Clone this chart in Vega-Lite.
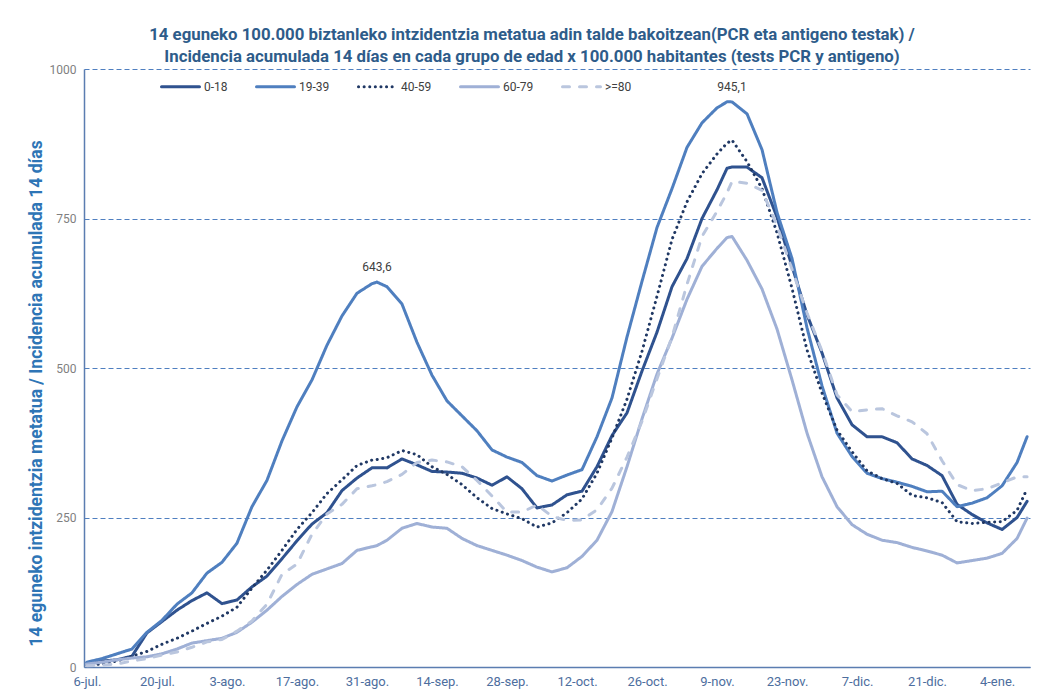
{
"$schema": "https://vega.github.io/schema/vega-lite/v6.json",
"width": 946, "height": 598,
"autosize": {"type": "none"},
"padding": {"left": 84, "top": 69, "right": 22, "bottom": 28},
"background": "white",
"config": {"view": {"stroke": null}, "font": "Roboto"},
"title": {"text": ["14 eguneko 100.000 biztanleko intzidentzia metatua adin talde bakoitzean(PCR eta antigeno testak) /", "Incidencia acumulada 14 días en cada grupo de edad x 100.000 habitantes (tests PCR y antigeno)"], "fontSize": 16.8, "fontWeight": "bold", "color": "#2e5c8a", "font": "Roboto", "anchor": "middle", "dx": -25, "offset": -3, "lineHeight": 22},
"layer": [
{
"data": {"values": [
{"d":"2020-07-06","g":"0-18","v":7},{"d":"2020-07-09","g":"0-18","v":10},{"d":"2020-07-12","g":"0-18","v":12},{"d":"2020-07-15","g":"0-18","v":18},{"d":"2020-07-18","g":"0-18","v":57},{"d":"2020-07-21","g":"0-18","v":76},{"d":"2020-07-24","g":"0-18","v":95},{"d":"2020-07-27","g":"0-18","v":111},{"d":"2020-07-30","g":"0-18","v":124},{"d":"2020-08-02","g":"0-18","v":106},
{"d":"2020-08-05","g":"0-18","v":112},{"d":"2020-08-08","g":"0-18","v":134},{"d":"2020-08-11","g":"0-18","v":152},{"d":"2020-08-14","g":"0-18","v":181},{"d":"2020-08-17","g":"0-18","v":211},{"d":"2020-08-20","g":"0-18","v":239},{"d":"2020-08-23","g":"0-18","v":258},{"d":"2020-08-26","g":"0-18","v":295},{"d":"2020-08-29","g":"0-18","v":316},{"d":"2020-09-01","g":"0-18","v":333},
{"d":"2020-09-02","g":"0-18","v":333},{"d":"2020-09-04","g":"0-18","v":333},{"d":"2020-09-07","g":"0-18","v":348},{"d":"2020-09-10","g":"0-18","v":338},{"d":"2020-09-13","g":"0-18","v":327},{"d":"2020-09-16","g":"0-18","v":326},{"d":"2020-09-19","g":"0-18","v":324},{"d":"2020-09-22","g":"0-18","v":316},{"d":"2020-09-25","g":"0-18","v":304},{"d":"2020-09-28","g":"0-18","v":318},
{"d":"2020-10-01","g":"0-18","v":298},{"d":"2020-10-04","g":"0-18","v":266},{"d":"2020-10-07","g":"0-18","v":271},{"d":"2020-10-10","g":"0-18","v":288},{"d":"2020-10-13","g":"0-18","v":294},{"d":"2020-10-16","g":"0-18","v":335},{"d":"2020-10-19","g":"0-18","v":387},{"d":"2020-10-22","g":"0-18","v":425},{"d":"2020-10-25","g":"0-18","v":495},{"d":"2020-10-28","g":"0-18","v":560},
{"d":"2020-10-31","g":"0-18","v":636},{"d":"2020-11-03","g":"0-18","v":683},{"d":"2020-11-06","g":"0-18","v":750},{"d":"2020-11-09","g":"0-18","v":798},{"d":"2020-11-11","g":"0-18","v":834},{"d":"2020-11-12","g":"0-18","v":836},{"d":"2020-11-15","g":"0-18","v":836},{"d":"2020-11-18","g":"0-18","v":818},{"d":"2020-11-21","g":"0-18","v":752},{"d":"2020-11-24","g":"0-18","v":670},
{"d":"2020-11-27","g":"0-18","v":589},{"d":"2020-11-30","g":"0-18","v":525},{"d":"2020-12-03","g":"0-18","v":450},{"d":"2020-12-06","g":"0-18","v":405},{"d":"2020-12-09","g":"0-18","v":385},{"d":"2020-12-12","g":"0-18","v":385},{"d":"2020-12-15","g":"0-18","v":375},{"d":"2020-12-18","g":"0-18","v":348},{"d":"2020-12-21","g":"0-18","v":337},{"d":"2020-12-24","g":"0-18","v":320},
{"d":"2020-12-27","g":"0-18","v":272},{"d":"2020-12-30","g":"0-18","v":255},{"d":"2021-01-02","g":"0-18","v":241},{"d":"2021-01-05","g":"0-18","v":230},{"d":"2021-01-08","g":"0-18","v":250},{"d":"2021-01-10","g":"0-18","v":277},

{"d":"2020-07-06","g":"19-39","v":8},{"d":"2020-07-09","g":"19-39","v":14},{"d":"2020-07-12","g":"19-39","v":22},{"d":"2020-07-15","g":"19-39","v":30},{"d":"2020-07-18","g":"19-39","v":58},{"d":"2020-07-21","g":"19-39","v":78},{"d":"2020-07-24","g":"19-39","v":105},{"d":"2020-07-27","g":"19-39","v":124},{"d":"2020-07-30","g":"19-39","v":157},{"d":"2020-08-02","g":"19-39","v":175},
{"d":"2020-08-05","g":"19-39","v":207},{"d":"2020-08-08","g":"19-39","v":268},{"d":"2020-08-11","g":"19-39","v":312},{"d":"2020-08-14","g":"19-39","v":378},{"d":"2020-08-17","g":"19-39","v":435},{"d":"2020-08-20","g":"19-39","v":480},{"d":"2020-08-23","g":"19-39","v":538},{"d":"2020-08-26","g":"19-39","v":587},{"d":"2020-08-29","g":"19-39","v":625},{"d":"2020-09-01","g":"19-39","v":641},
{"d":"2020-09-02","g":"19-39","v":643.6},{"d":"2020-09-04","g":"19-39","v":636},{"d":"2020-09-07","g":"19-39","v":607},{"d":"2020-09-10","g":"19-39","v":543},{"d":"2020-09-13","g":"19-39","v":488},{"d":"2020-09-16","g":"19-39","v":445},{"d":"2020-09-19","g":"19-39","v":420},{"d":"2020-09-22","g":"19-39","v":395},{"d":"2020-09-25","g":"19-39","v":363},{"d":"2020-09-28","g":"19-39","v":351},
{"d":"2020-10-01","g":"19-39","v":342},{"d":"2020-10-04","g":"19-39","v":320},{"d":"2020-10-07","g":"19-39","v":311},{"d":"2020-10-10","g":"19-39","v":321},{"d":"2020-10-13","g":"19-39","v":330},{"d":"2020-10-16","g":"19-39","v":385},{"d":"2020-10-19","g":"19-39","v":450},{"d":"2020-10-22","g":"19-39","v":552},{"d":"2020-10-25","g":"19-39","v":645},{"d":"2020-10-28","g":"19-39","v":735},
{"d":"2020-10-31","g":"19-39","v":800},{"d":"2020-11-03","g":"19-39","v":869},{"d":"2020-11-06","g":"19-39","v":910},{"d":"2020-11-09","g":"19-39","v":935},{"d":"2020-11-11","g":"19-39","v":945.1},{"d":"2020-11-12","g":"19-39","v":945},{"d":"2020-11-15","g":"19-39","v":925},{"d":"2020-11-18","g":"19-39","v":865},{"d":"2020-11-21","g":"19-39","v":760},{"d":"2020-11-24","g":"19-39","v":683},
{"d":"2020-11-27","g":"19-39","v":567},{"d":"2020-11-30","g":"19-39","v":470},{"d":"2020-12-03","g":"19-39","v":391},{"d":"2020-12-06","g":"19-39","v":352},{"d":"2020-12-09","g":"19-39","v":324},{"d":"2020-12-12","g":"19-39","v":315},{"d":"2020-12-15","g":"19-39","v":309},{"d":"2020-12-18","g":"19-39","v":302},{"d":"2020-12-21","g":"19-39","v":293},{"d":"2020-12-24","g":"19-39","v":294},
{"d":"2020-12-27","g":"19-39","v":268},{"d":"2020-12-30","g":"19-39","v":274},{"d":"2021-01-02","g":"19-39","v":283},{"d":"2021-01-05","g":"19-39","v":303},{"d":"2021-01-08","g":"19-39","v":342},{"d":"2021-01-10","g":"19-39","v":385},

{"d":"2020-07-06","g":"40-59","v":3},{"d":"2020-07-09","g":"40-59","v":5},{"d":"2020-07-12","g":"40-59","v":10},{"d":"2020-07-15","g":"40-59","v":18},{"d":"2020-07-18","g":"40-59","v":26},{"d":"2020-07-21","g":"40-59","v":38},{"d":"2020-07-24","g":"40-59","v":48},{"d":"2020-07-27","g":"40-59","v":60},{"d":"2020-07-30","g":"40-59","v":73},{"d":"2020-08-02","g":"40-59","v":85},
{"d":"2020-08-05","g":"40-59","v":100},{"d":"2020-08-08","g":"40-59","v":132},{"d":"2020-08-11","g":"40-59","v":162},{"d":"2020-08-14","g":"40-59","v":195},{"d":"2020-08-17","g":"40-59","v":230},{"d":"2020-08-20","g":"40-59","v":258},{"d":"2020-08-23","g":"40-59","v":290},{"d":"2020-08-26","g":"40-59","v":313},{"d":"2020-08-29","g":"40-59","v":337},{"d":"2020-09-01","g":"40-59","v":346},
{"d":"2020-09-02","g":"40-59","v":347},{"d":"2020-09-04","g":"40-59","v":350},{"d":"2020-09-07","g":"40-59","v":362},{"d":"2020-09-10","g":"40-59","v":355},{"d":"2020-09-13","g":"40-59","v":335},{"d":"2020-09-16","g":"40-59","v":322},{"d":"2020-09-19","g":"40-59","v":305},{"d":"2020-09-22","g":"40-59","v":283},{"d":"2020-09-25","g":"40-59","v":265},{"d":"2020-09-28","g":"40-59","v":256},
{"d":"2020-10-01","g":"40-59","v":248},{"d":"2020-10-04","g":"40-59","v":234},{"d":"2020-10-07","g":"40-59","v":241},{"d":"2020-10-10","g":"40-59","v":258},{"d":"2020-10-13","g":"40-59","v":281},{"d":"2020-10-16","g":"40-59","v":324},{"d":"2020-10-19","g":"40-59","v":383},{"d":"2020-10-22","g":"40-59","v":448},{"d":"2020-10-25","g":"40-59","v":528},{"d":"2020-10-28","g":"40-59","v":620},
{"d":"2020-10-31","g":"40-59","v":715},{"d":"2020-11-03","g":"40-59","v":778},{"d":"2020-11-06","g":"40-59","v":825},{"d":"2020-11-09","g":"40-59","v":858},{"d":"2020-11-11","g":"40-59","v":876},{"d":"2020-11-12","g":"40-59","v":881},{"d":"2020-11-15","g":"40-59","v":845},{"d":"2020-11-18","g":"40-59","v":800},{"d":"2020-11-21","g":"40-59","v":726},{"d":"2020-11-24","g":"40-59","v":633},
{"d":"2020-11-27","g":"40-59","v":530},{"d":"2020-11-30","g":"40-59","v":458},{"d":"2020-12-03","g":"40-59","v":396},{"d":"2020-12-06","g":"40-59","v":360},{"d":"2020-12-09","g":"40-59","v":328},{"d":"2020-12-12","g":"40-59","v":315},{"d":"2020-12-15","g":"40-59","v":307},{"d":"2020-12-18","g":"40-59","v":287},{"d":"2020-12-21","g":"40-59","v":283},{"d":"2020-12-24","g":"40-59","v":275},
{"d":"2020-12-27","g":"40-59","v":243},{"d":"2020-12-30","g":"40-59","v":240},{"d":"2021-01-02","g":"40-59","v":242},{"d":"2021-01-05","g":"40-59","v":243},{"d":"2021-01-08","g":"40-59","v":262},{"d":"2021-01-10","g":"40-59","v":298},

{"d":"2020-07-06","g":"60-79","v":5},{"d":"2020-07-09","g":"60-79","v":8},{"d":"2020-07-12","g":"60-79","v":12},{"d":"2020-07-15","g":"60-79","v":15},{"d":"2020-07-18","g":"60-79","v":17},{"d":"2020-07-21","g":"60-79","v":22},{"d":"2020-07-24","g":"60-79","v":30},{"d":"2020-07-27","g":"60-79","v":40},{"d":"2020-07-30","g":"60-79","v":44},{"d":"2020-08-02","g":"60-79","v":48},
{"d":"2020-08-05","g":"60-79","v":58},{"d":"2020-08-08","g":"60-79","v":75},{"d":"2020-08-11","g":"60-79","v":95},{"d":"2020-08-14","g":"60-79","v":118},{"d":"2020-08-17","g":"60-79","v":138},{"d":"2020-08-20","g":"60-79","v":155},{"d":"2020-08-23","g":"60-79","v":164},{"d":"2020-08-26","g":"60-79","v":173},{"d":"2020-08-29","g":"60-79","v":195},{"d":"2020-09-01","g":"60-79","v":201},
{"d":"2020-09-02","g":"60-79","v":203},{"d":"2020-09-04","g":"60-79","v":212},{"d":"2020-09-07","g":"60-79","v":232},{"d":"2020-09-10","g":"60-79","v":240},{"d":"2020-09-13","g":"60-79","v":234},{"d":"2020-09-16","g":"60-79","v":232},{"d":"2020-09-19","g":"60-79","v":215},{"d":"2020-09-22","g":"60-79","v":203},{"d":"2020-09-25","g":"60-79","v":195},{"d":"2020-09-28","g":"60-79","v":187},
{"d":"2020-10-01","g":"60-79","v":178},{"d":"2020-10-04","g":"60-79","v":167},{"d":"2020-10-07","g":"60-79","v":159},{"d":"2020-10-10","g":"60-79","v":166},{"d":"2020-10-13","g":"60-79","v":185},{"d":"2020-10-16","g":"60-79","v":212},{"d":"2020-10-19","g":"60-79","v":260},{"d":"2020-10-22","g":"60-79","v":335},{"d":"2020-10-25","g":"60-79","v":415},{"d":"2020-10-28","g":"60-79","v":490},
{"d":"2020-10-31","g":"60-79","v":550},{"d":"2020-11-03","g":"60-79","v":615},{"d":"2020-11-06","g":"60-79","v":670},{"d":"2020-11-09","g":"60-79","v":700},{"d":"2020-11-11","g":"60-79","v":718},{"d":"2020-11-12","g":"60-79","v":720},{"d":"2020-11-15","g":"60-79","v":680},{"d":"2020-11-18","g":"60-79","v":632},{"d":"2020-11-21","g":"60-79","v":565},{"d":"2020-11-24","g":"60-79","v":480},
{"d":"2020-11-27","g":"60-79","v":391},{"d":"2020-11-30","g":"60-79","v":318},{"d":"2020-12-03","g":"60-79","v":268},{"d":"2020-12-06","g":"60-79","v":238},{"d":"2020-12-09","g":"60-79","v":222},{"d":"2020-12-12","g":"60-79","v":212},{"d":"2020-12-15","g":"60-79","v":208},{"d":"2020-12-18","g":"60-79","v":200},{"d":"2020-12-21","g":"60-79","v":194},{"d":"2020-12-24","g":"60-79","v":187},
{"d":"2020-12-27","g":"60-79","v":174},{"d":"2020-12-30","g":"60-79","v":178},{"d":"2021-01-02","g":"60-79","v":182},{"d":"2021-01-05","g":"60-79","v":190},{"d":"2021-01-08","g":"60-79","v":215},{"d":"2021-01-10","g":"60-79","v":249},

{"d":"2020-07-06","g":">=80","v":2},{"d":"2020-07-09","g":">=80","v":3},{"d":"2020-07-12","g":">=80","v":5},{"d":"2020-07-15","g":">=80","v":10},{"d":"2020-07-18","g":">=80","v":14},{"d":"2020-07-21","g":">=80","v":20},{"d":"2020-07-24","g":">=80","v":25},{"d":"2020-07-27","g":">=80","v":33},{"d":"2020-07-30","g":">=80","v":42},{"d":"2020-08-02","g":">=80","v":46},
{"d":"2020-08-05","g":">=80","v":60},{"d":"2020-08-08","g":">=80","v":77},{"d":"2020-08-11","g":">=80","v":105},{"d":"2020-08-14","g":">=80","v":155},{"d":"2020-08-17","g":">=80","v":172},{"d":"2020-08-20","g":">=80","v":222},{"d":"2020-08-23","g":">=80","v":256},{"d":"2020-08-26","g":">=80","v":272},{"d":"2020-08-29","g":">=80","v":298},{"d":"2020-09-01","g":">=80","v":303},
{"d":"2020-09-02","g":">=80","v":305},{"d":"2020-09-04","g":">=80","v":310},{"d":"2020-09-07","g":">=80","v":322},{"d":"2020-09-10","g":">=80","v":342},{"d":"2020-09-13","g":">=80","v":346},{"d":"2020-09-16","g":">=80","v":343},{"d":"2020-09-19","g":">=80","v":335},{"d":"2020-09-22","g":">=80","v":312},{"d":"2020-09-25","g":">=80","v":286},{"d":"2020-09-28","g":">=80","v":259},
{"d":"2020-10-01","g":">=80","v":259},{"d":"2020-10-04","g":">=80","v":271},{"d":"2020-10-07","g":">=80","v":252},{"d":"2020-10-10","g":">=80","v":245},{"d":"2020-10-13","g":">=80","v":246},{"d":"2020-10-16","g":">=80","v":263},{"d":"2020-10-19","g":">=80","v":299},{"d":"2020-10-22","g":">=80","v":351},{"d":"2020-10-25","g":">=80","v":411},{"d":"2020-10-28","g":">=80","v":482},
{"d":"2020-10-31","g":">=80","v":552},{"d":"2020-11-03","g":">=80","v":640},{"d":"2020-11-06","g":">=80","v":720},{"d":"2020-11-09","g":">=80","v":762},{"d":"2020-11-11","g":">=80","v":793},{"d":"2020-11-12","g":">=80","v":812},{"d":"2020-11-15","g":">=80","v":809},{"d":"2020-11-18","g":">=80","v":797},{"d":"2020-11-21","g":">=80","v":738},{"d":"2020-11-24","g":">=80","v":665},
{"d":"2020-11-27","g":">=80","v":592},{"d":"2020-11-30","g":">=80","v":528},{"d":"2020-12-03","g":">=80","v":455},{"d":"2020-12-06","g":">=80","v":427},{"d":"2020-12-09","g":">=80","v":430},{"d":"2020-12-12","g":">=80","v":432},{"d":"2020-12-15","g":">=80","v":420},{"d":"2020-12-18","g":">=80","v":410},{"d":"2020-12-21","g":">=80","v":390},{"d":"2020-12-24","g":">=80","v":345},
{"d":"2020-12-27","g":">=80","v":305},{"d":"2020-12-30","g":">=80","v":295},{"d":"2021-01-02","g":">=80","v":298},{"d":"2021-01-05","g":">=80","v":308},{"d":"2021-01-08","g":">=80","v":318},{"d":"2021-01-10","g":">=80","v":318}
], "format": {"parse": {"d": "utc:'%Y-%m-%d'"}}},
"mark": {"type": "line", "strokeWidth": 3, "strokeCap": "round", "strokeJoin": "round"},
"encoding": {
"x": {"field": "d", "type": "temporal",
 "scale": {"type": "utc", "domain": [{"year": 2020, "month": 7, "date": 5, "hours": 10, "utc": true}, {"year": 2021, "month": 1, "date": 10, "hours": 14, "utc": true}]},
 "axis": {"title": null, "grid": false, "ticks": false, "labelOverlap": false, "labelBound": false, "labelFlush": false,
  "values": [{"year":2020,"month":7,"date":6,"utc":true},{"year":2020,"month":7,"date":20,"utc":true},{"year":2020,"month":8,"date":3,"utc":true},{"year":2020,"month":8,"date":17,"utc":true},{"year":2020,"month":8,"date":31,"utc":true},{"year":2020,"month":9,"date":14,"utc":true},{"year":2020,"month":9,"date":28,"utc":true},{"year":2020,"month":10,"date":12,"utc":true},{"year":2020,"month":10,"date":26,"utc":true},{"year":2020,"month":11,"date":9,"utc":true},{"year":2020,"month":11,"date":23,"utc":true},{"year":2020,"month":12,"date":7,"utc":true},{"year":2020,"month":12,"date":21,"utc":true},{"year":2021,"month":1,"date":4,"utc":true}],
  "labelExpr": "utcdate(datum.value) + '-' + ['ene','feb','mar','abr','may','jun','jul','ago','sep','oct','nov','dic'][utcmonth(datum.value)] + '.'",
  "domainColor": "#5b7db1", "domainWidth": 1.5, "labelColor": "#4d6e9e", "labelFontSize": 13, "labelPadding": 8, "labelFont": "Roboto"}},
"y": {"field": "v", "type": "quantitative",
 "scale": {"domain": [0, 1000], "nice": false, "zero": true},
 "axis": {"values": [0, 250, 500, 750, 1000], "format": "d", "grid": true, "gridDash": [5, 3], "gridColor": "#4f7fc0", "gridWidth": 1, "ticks": false,
  "domainColor": "#5b7db1", "domainWidth": 1.5, "labelColor": "#7f7f7f", "labelFontSize": 12, "labelPadding": 8, "labelFont": "Roboto",
  "title": "14 eguneko intzidentzia metatua / Incidencia acumulada 14 días", "titleColor": "#2e75b6", "titleFontSize": 17.5, "titleFontWeight": "bold", "titleFont": "Roboto", "titleX": -48, "titleY": 324, "titleBaseline": "middle"}},
"color": {"field": "g", "type": "nominal",
 "scale": {"domain": ["0-18", "19-39", "40-59", "60-79", ">=80"], "range": ["#2f528f", "#4f7fbf", "#203864", "#9fb0d6", "#bac6de"]},
 "legend": {"title": null, "orient": "none", "legendX": 76, "legendY": -3, "direction": "horizontal", "symbolType": "stroke", "symbolSize": 1444, "symbolStrokeWidth": 3, "labelFontSize": 12, "labelColor": "#404040", "labelFont": "Roboto", "labelOffset": 3, "columnPadding": 22, "padding": 0,
  "encode": {"symbols": {"update": {"strokeCap": {"value": "round"}}}}}},
"strokeDash": {"field": "g", "type": "nominal",
 "scale": {"domain": ["0-18", "19-39", "40-59", "60-79", ">=80"], "range": [[1, 0], [1, 0], [0.1, 5.5], [1, 0], [7, 10]]},
 "legend": {"title": null, "orient": "none", "legendX": 76, "legendY": -3, "direction": "horizontal", "symbolType": "stroke", "symbolSize": 1444, "symbolStrokeWidth": 3, "labelFontSize": 12, "labelColor": "#404040", "labelFont": "Roboto", "labelOffset": 3, "columnPadding": 22, "padding": 0,
  "encode": {"symbols": {"update": {"strokeCap": {"value": "round"}}}}}}
}
},
{
"data": {"values": [{"d": "2020-09-02", "v": 643.6, "t": "643,6"}, {"d": "2020-11-12", "v": 945.1, "t": "945,1"}], "format": {"parse": {"d": "utc:'%Y-%m-%d'"}}},
"mark": {"type": "text", "dy": -8, "baseline": "bottom", "fontSize": 12, "color": "#404040", "font": "Roboto"},
"encoding": {
"x": {"field": "d", "type": "temporal"},
"y": {"field": "v", "type": "quantitative"},
"text": {"field": "t"}
}
}
]
}
